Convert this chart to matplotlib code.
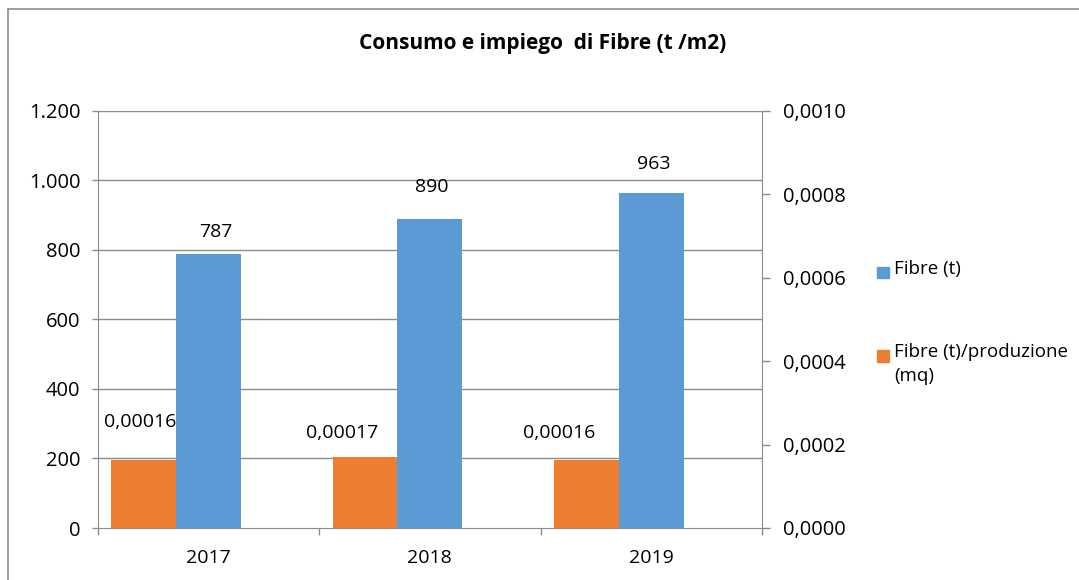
import matplotlib
matplotlib.use("Agg")
import matplotlib.pyplot as plt
from matplotlib.lines import Line2D
from matplotlib.patches import Rectangle
from matplotlib.ticker import FuncFormatter, FixedLocator
import numpy as np

# dati
anni = ["2017", "2018", "2019"]
fibre_t = [787, 890, 963]
fibre_per_mq = [0.000163, 0.000169, 0.000162]
legenda = ["Fibre (t)", "Fibre (t)/produzione\n(mq)"]
titolo = "Consumo e impiego  di Fibre (t /m2)"

# spostamenti delle etichette (pixel), come trascinate a mano nell'originale
off_blu = [(7, 22), (2, 32), (2, 29)]
off_arancio = [(-3.5, 38), (-23, 24), (-27, 27)]

BLU = "#5B9BD5"
ARANCIO = "#ED7D31"
GRIGIO = "#8C8C8C"
W, H = 1079, 580

plt.rcParams["font.family"] = ["Open Sans", "DejaVu Sans"]
plt.rcParams["font.size"] = 13

fig = plt.figure(figsize=(W / 100, H / 100), dpi=100)
ax = fig.add_axes([97.7 / W, 1 - 528 / H, (762 - 97.7) / W, (528 - 110.7) / H])
ax2 = ax.twinx()

x = np.arange(len(anni))
larg = 0.293
b1 = ax.bar(x, fibre_t, width=larg, color=BLU, zorder=3)
b2 = ax2.bar(x - larg, fibre_per_mq, width=larg, color=ARANCIO, zorder=3)

ax.set_xlim(-0.5, 2.5)
ax.set_ylim(0, 1200)
ax2.set_ylim(0, 0.001)

ax.set_yticks(np.arange(0, 1201, 200))
ax2.set_yticks(np.arange(0, 0.00101, 0.0002))
ax.yaxis.set_major_formatter(FuncFormatter(lambda v, p: f"{int(v):,}".replace(",", ".")))
ax2.yaxis.set_major_formatter(FuncFormatter(lambda v, p: f"{v:.4f}".replace(".", ",")))

# griglia
for v in np.arange(200, 1201, 200):
    ax.axhline(v, color=GRIGIO, lw=1.0, zorder=1)

# asse x: tacche ai confini, etichette al centro
ax.xaxis.set_major_locator(FixedLocator([-0.5, 0.5, 1.5, 2.5]))
ax.xaxis.set_major_formatter(FuncFormatter(lambda v, p: ""))
ax.xaxis.set_minor_locator(FixedLocator(x))
ax.set_xticks(x, anni, minor=True)
ax.tick_params(axis="x", which="major", length=5, width=1, color=GRIGIO, direction="out")
ax.tick_params(axis="x", which="minor", length=0, pad=15, labelsize=14)
ax.tick_params(axis="y", length=4.5, width=1, color=GRIGIO, pad=8, labelsize=14.5)
ax2.tick_params(axis="y", length=6, width=1, color=GRIGIO, pad=9, labelsize=14.5)

for a in (ax, ax2):
    for s in a.spines.values():
        s.set_visible(False)
ax.spines["left"].set_visible(True)
ax.spines["bottom"].set_visible(True)
ax2.spines["right"].set_visible(True)
ax.spines["left"].set_color(GRIGIO)
ax.spines["bottom"].set_color(GRIGIO)
ax2.spines["right"].set_color(GRIGIO)
ax.spines["bottom"].set_zorder(5)

# etichette dati
for r, v, o in zip(b1, fibre_t, off_blu):
    ax.annotate(str(v), (r.get_x() + r.get_width() / 2, v), xytext=o,
                textcoords="offset pixels", ha="center", va="center", fontsize=14)
for r, v, o in zip(b2, fibre_per_mq, off_arancio):
    ax2.annotate(f"{v:.5f}".replace(".", ","), (r.get_x() + r.get_width() / 2, v), xytext=o,
                 textcoords="offset pixels", ha="center", va="center", fontsize=14)

fig.text(543 / W, 1 - 44 / H, titolo, ha="center", va="center", fontsize=15, fontweight="bold")

# legenda
for (y0, col), lab in zip([(266.7, BLU), (350, ARANCIO)], legenda):
    fig.patches.append(Rectangle((876.7 / W, 1 - (y0 + 11.5) / H), 12 / W, 11.5 / H,
                                 transform=fig.transFigure, color=col))
    fig.text(894 / W, 1 - (y0 - 7) / H, lab, ha="left", va="top", fontsize=13.5, linespacing=1.45)

# cornice del grafico
fig.add_artist(Line2D([7.5 / W, 7.5 / W], [0, 1 - 9 / H], color=GRIGIO, lw=1.2))
fig.add_artist(Line2D([7.5 / W, 1], [1 - 9 / H, 1 - 9 / H], color=GRIGIO, lw=1.2))

fig.savefig("out.png", dpi=100)
